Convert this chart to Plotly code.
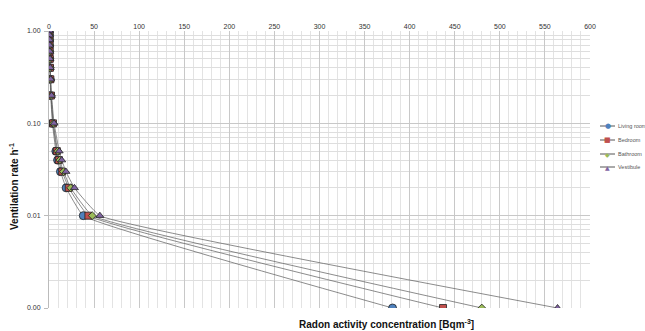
import plotly.graph_objects as go

vent_rate = [1.0, 0.9, 0.8, 0.7, 0.6, 0.5, 0.4, 0.3, 0.2, 0.1, 0.05, 0.04, 0.03, 0.02, 0.01, 0.001]
living_room = [0.4, 0.4, 0.5, 0.5, 0.6, 0.8, 1.0, 1.3, 1.9, 3.8, 7.6, 9.5, 12.7, 19.0, 38.0, 381.0]
bedroom = [0.4, 0.5, 0.5, 0.6, 0.7, 0.9, 1.1, 1.5, 2.2, 4.4, 8.7, 10.9, 14.6, 21.9, 43.7, 437.0]
bathroom = [0.5, 0.5, 0.6, 0.7, 0.8, 1.0, 1.2, 1.6, 2.4, 4.8, 9.6, 12.0, 16.0, 24.0, 48.0, 480.0]
vestibule = [0.6, 0.6, 0.7, 0.8, 0.9, 1.1, 1.4, 1.9, 2.8, 5.6, 11.3, 14.1, 18.8, 28.2, 56.4, 564.0]

series_names = ["Living room", "Bedroom", "Bathroom", "Vestibule"]
series = [
    (series_names[0], living_room, "circle", "#4F81BD", 8, "●", 7),
    (series_names[1], bedroom, "square", "#C0504D", 7, "■", 7),
    (series_names[2], bathroom, "diamond", "#9BBB59", 6, "◆", 6),
    (series_names[3], vestibule, "triangle-up", "#8064A2", 7, "▲", 6),
]

x_ticks = list(range(0, 601, 50))
y_tickvals = [0.001, 0.01, 0.1, 1.0]
y_ticktext = ["0.00", "0.01", "0.10", "1.00"]
y_minor = [m * 10 ** e for e in (-3, -2, -1) for m in range(2, 10)]

W, H = 645, 331
PL, PR, PT, PB = 49, 590, 31, 308  # plot area in screen pixels


def px(sx):
    return (sx - PL) / (PR - PL)


def py(sy):
    return (PB - sy) / (PB - PT)


fig = go.Figure()
for name, xs, sym, col, sz, glyph, gsz in series:
    fig.add_trace(go.Scatter(
        x=xs, y=vent_rate, name=name, mode="lines+markers",
        line=dict(color="#5a5a5a", width=0.7, shape="spline", smoothing=0.3),
        marker=dict(symbol=sym, color=col, size=sz, line=dict(color="#222222", width=0.8)),
        showlegend=False,
    ))

annotations = [
    dict(text="<b>Ventilation rate h<sup>-1</sup></b>", xref="paper", yref="paper",
         x=px(14), y=py(187), textangle=-90, showarrow=False,
         xanchor="center", yanchor="middle",
         font=dict(size=10, color="#111111", family="Liberation Sans")),
    dict(text="<b>Radon activity concentration [Bqm<sup>-3</sup>]</b>", xref="paper", yref="paper",
         x=px(386), y=py(324), showarrow=False,
         xanchor="center", yanchor="middle",
         font=dict(size=10, color="#111111", family="Liberation Sans")),
]
shapes = []
legend_y = [126, 140, 154, 167]
for (name, xs, sym, col, sz, glyph, gsz), ly in zip(series, legend_y):
    shapes.append(dict(type="line", xref="paper", yref="paper", layer="below",
                       x0=px(600), x1=px(615), y0=py(ly), y1=py(ly),
                       line=dict(color="#555555", width=1)))
    annotations.append(dict(text=glyph, xref="paper", yref="paper", x=px(607.5), y=py(ly),
                            showarrow=False, xanchor="center", yanchor="middle",
                            font=dict(size=gsz, color=col, family="DejaVu Sans")))
    annotations.append(dict(text=name, xref="paper", yref="paper", x=px(616), y=py(ly),
                            showarrow=False, xanchor="left", yanchor="middle",
                            font=dict(size=5.5, color="#555555", family="Liberation Sans")))

fig.update_layout(
    width=W, height=H,
    margin=dict(l=PL, r=W - PR, t=PT, b=H - PB, autoexpand=False),
    paper_bgcolor="white", plot_bgcolor="white",
    font=dict(family="Liberation Sans", size=7, color="#333333"),
    showlegend=False,
    xaxis=dict(side="top", range=[0, 600], tickvals=x_ticks,
               ticktext=[str(v) for v in x_ticks],
               showgrid=True, gridcolor="#c8c8c8", gridwidth=0.8,
               minor=dict(dtick=10, showgrid=True, gridcolor="#e3e3e3", gridwidth=0.8),
               zeroline=False, showline=False, ticks="",
               tickfont=dict(size=7, color="#333333")),
    yaxis=dict(type="log", range=[-3, 0], tickvals=y_tickvals, ticktext=y_ticktext,
               showgrid=True, gridcolor="#c8c8c8", gridwidth=0.8,
               minor=dict(tickvals=y_minor, showgrid=True, gridcolor="#dedede", gridwidth=0.8),
               showline=True, linecolor="#bbbbbb", linewidth=1,
               zeroline=False, ticks="outside", ticklen=4, tickcolor="#bbbbbb",
               tickfont=dict(size=7, color="#333333", family="Liberation Sans"),
               ticklabelstandoff=2),
    annotations=annotations,
    shapes=shapes,
)

fig.write_html("out.html", config={"displayModeBar": False},
               post_script="document.body.style.margin='0';document.body.style.overflow='hidden';")
